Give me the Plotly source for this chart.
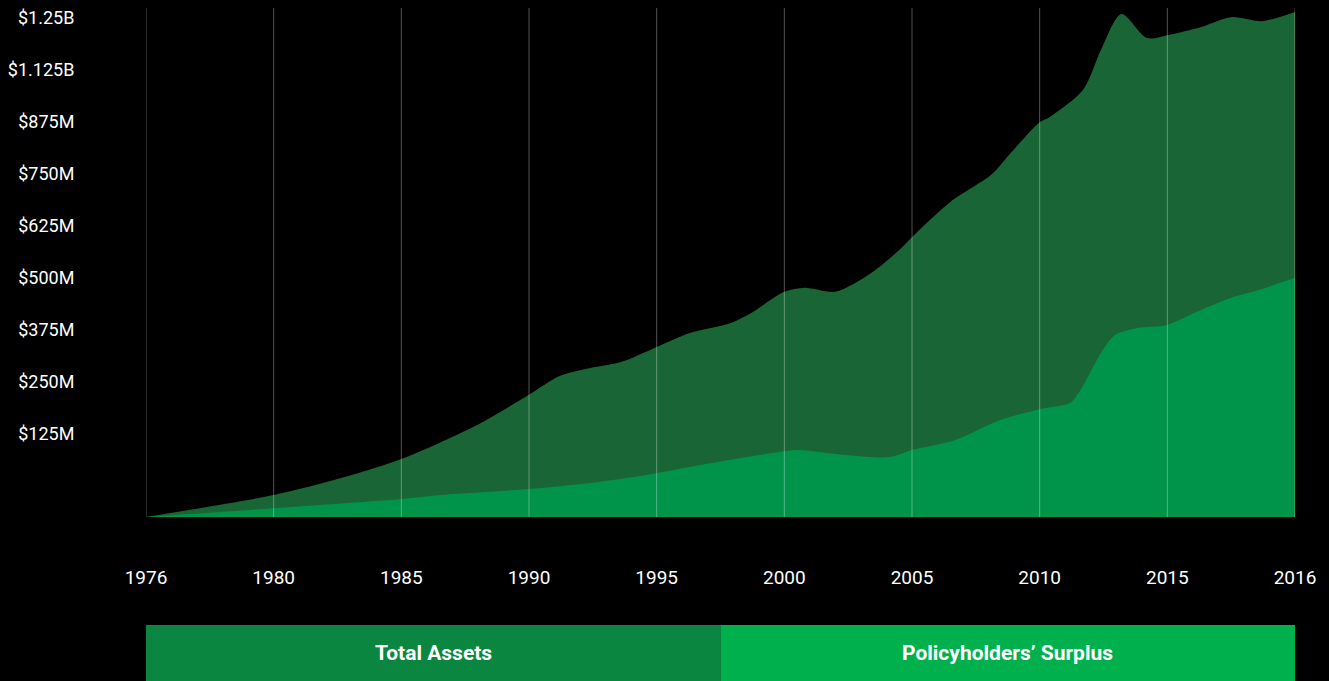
import numpy as np
import plotly.graph_objects as go

# x positions on an evenly spaced slot axis (slot years) with displayed labels
assets_x = [1975.0, 1980.0, 1982.4, 1985.0, 1988.1, 1990.0, 1991.2, 1992.4, 1993.6, 1995.0,
            1996.3, 1997.9, 1998.7, 2000.0, 2000.8, 2002.0, 2003.4, 2004.5, 2005.0, 2006.5,
            2008.1, 2008.8, 2010.0, 2010.4, 2011.7, 2012.4, 2013.2, 2014.2, 2015.0, 2016.3,
            2017.5, 2018.7, 2020.0]
assets_m = [0, 55, 93, 145, 235, 306, 353, 373, 388, 426,
            461, 486, 511, 564, 574, 564, 611, 669, 701, 789,
            857, 907, 989, 1002, 1070, 1170, 1260, 1200, 1207, 1227,
            1252, 1242, 1265]

surplus_x = [1975.0, 1980.0, 1985.0, 1986.5, 1990.0, 1992.4, 1994.6, 1996.7, 2000.0, 2000.6,
             2002.0, 2004.1, 2005.0, 2006.7, 2008.45, 2010.0, 2011.2, 2011.6, 2012.4, 2012.95,
             2013.9, 2014.7, 2015.0, 2016.3, 2017.5, 2018.6, 2020.0]
surplus_m = [0, 22, 45, 55, 70, 85, 105, 130, 165, 168,
             158, 150, 168, 193, 243, 270, 286, 318, 411, 456,
             474, 478, 481, 518, 549, 569, 599]

x_tick_labels = ["1976", "1980", "1985", "1990", "1995", "2000", "2005", "2010", "2015", "2016"]
y_tick_labels = ["$1.25B", "$1.125B", "$875M", "$750M", "$625M", "$500M", "$375M", "$250M", "$125M"]

series_names = ["Total Assets", "Policyholders’ Surplus"]

x_tickvals = list(np.linspace(1975, 2020, len(x_tick_labels)))
y_tickvals = list(1250 - 130.25 * np.arange(len(y_tick_labels)))

C_ASSETS = "#1a6535"
C_SURPLUS = "#00934a"
C_LEG1 = "#0a8640"
C_LEG2 = "#00b04c"
FONT = "Roboto"

fig = go.Figure()
fig.add_trace(go.Scatter(x=assets_x, y=assets_m, mode="lines", line=dict(width=0, shape="spline", smoothing=0.8),
                         fill="tozeroy", fillcolor=C_ASSETS, name=series_names[0], hoverinfo="skip"))
fig.add_trace(go.Scatter(x=surplus_x, y=surplus_m, mode="lines", line=dict(width=0, shape="spline", smoothing=0.8),
                         fill="tozeroy", fillcolor=C_SURPLUS, name=series_names[1], hoverinfo="skip"))

shapes = []
for xv in x_tickvals:
    shapes.append(dict(type="line", xref="x", yref="paper", x0=xv, x1=xv, y0=0, y1=1,
                       line=dict(color="rgba(255,255,255,0.32)", width=1), layer="above"))
# legend boxes
shapes.append(dict(type="rect", xref="paper", yref="paper", x0=0, x1=0.5004, y0=-0.3222, y1=-0.2122,
                   fillcolor=C_LEG1, line=dict(width=0), layer="above"))
shapes.append(dict(type="rect", xref="paper", yref="paper", x0=0.5004, x1=1, y0=-0.3222, y1=-0.2122,
                   fillcolor=C_LEG2, line=dict(width=0), layer="above"))

annotations = [
    dict(text="<b>%s</b>" % series_names[0], xref="paper", yref="paper", x=0.2502, y=-0.267,
         showarrow=False, font=dict(family=FONT, size=21, color="white"), xanchor="center", yanchor="middle"),
    dict(text="<b>%s</b>" % series_names[1], xref="paper", yref="paper", x=0.7502, y=-0.267,
         showarrow=False, font=dict(family=FONT, size=21, color="white"), xanchor="center", yanchor="middle"),
]

fig.update_layout(
    width=1329, height=681,
    paper_bgcolor="black", plot_bgcolor="black",
    margin=dict(l=146, r=34, t=8, b=164, autoexpand=False),
    showlegend=False,
    shapes=shapes, annotations=annotations,
    xaxis=dict(range=[1975, 2020], tickvals=x_tickvals, ticktext=x_tick_labels, showgrid=False,
               zeroline=False, showline=False, ticks="outside", ticklen=43, tickcolor="rgba(0,0,0,0)",
               tickfont=dict(family=FONT, size=19, color="white"), fixedrange=True, automargin=False),
    yaxis=dict(range=[0, 1275], tickvals=y_tickvals, ticktext=y_tick_labels, showgrid=False,
               zeroline=False, showline=False, ticks="outside", ticklen=67, tickcolor="rgba(0,0,0,0)",
               tickfont=dict(family=FONT, size=18, color="white"), fixedrange=True, automargin=False),
)

fig.write_html("out.html", config={"displayModeBar": False},
               post_script="document.body.style.margin='0';document.body.style.background='black';"
                           "document.body.style.overflow='hidden';")
